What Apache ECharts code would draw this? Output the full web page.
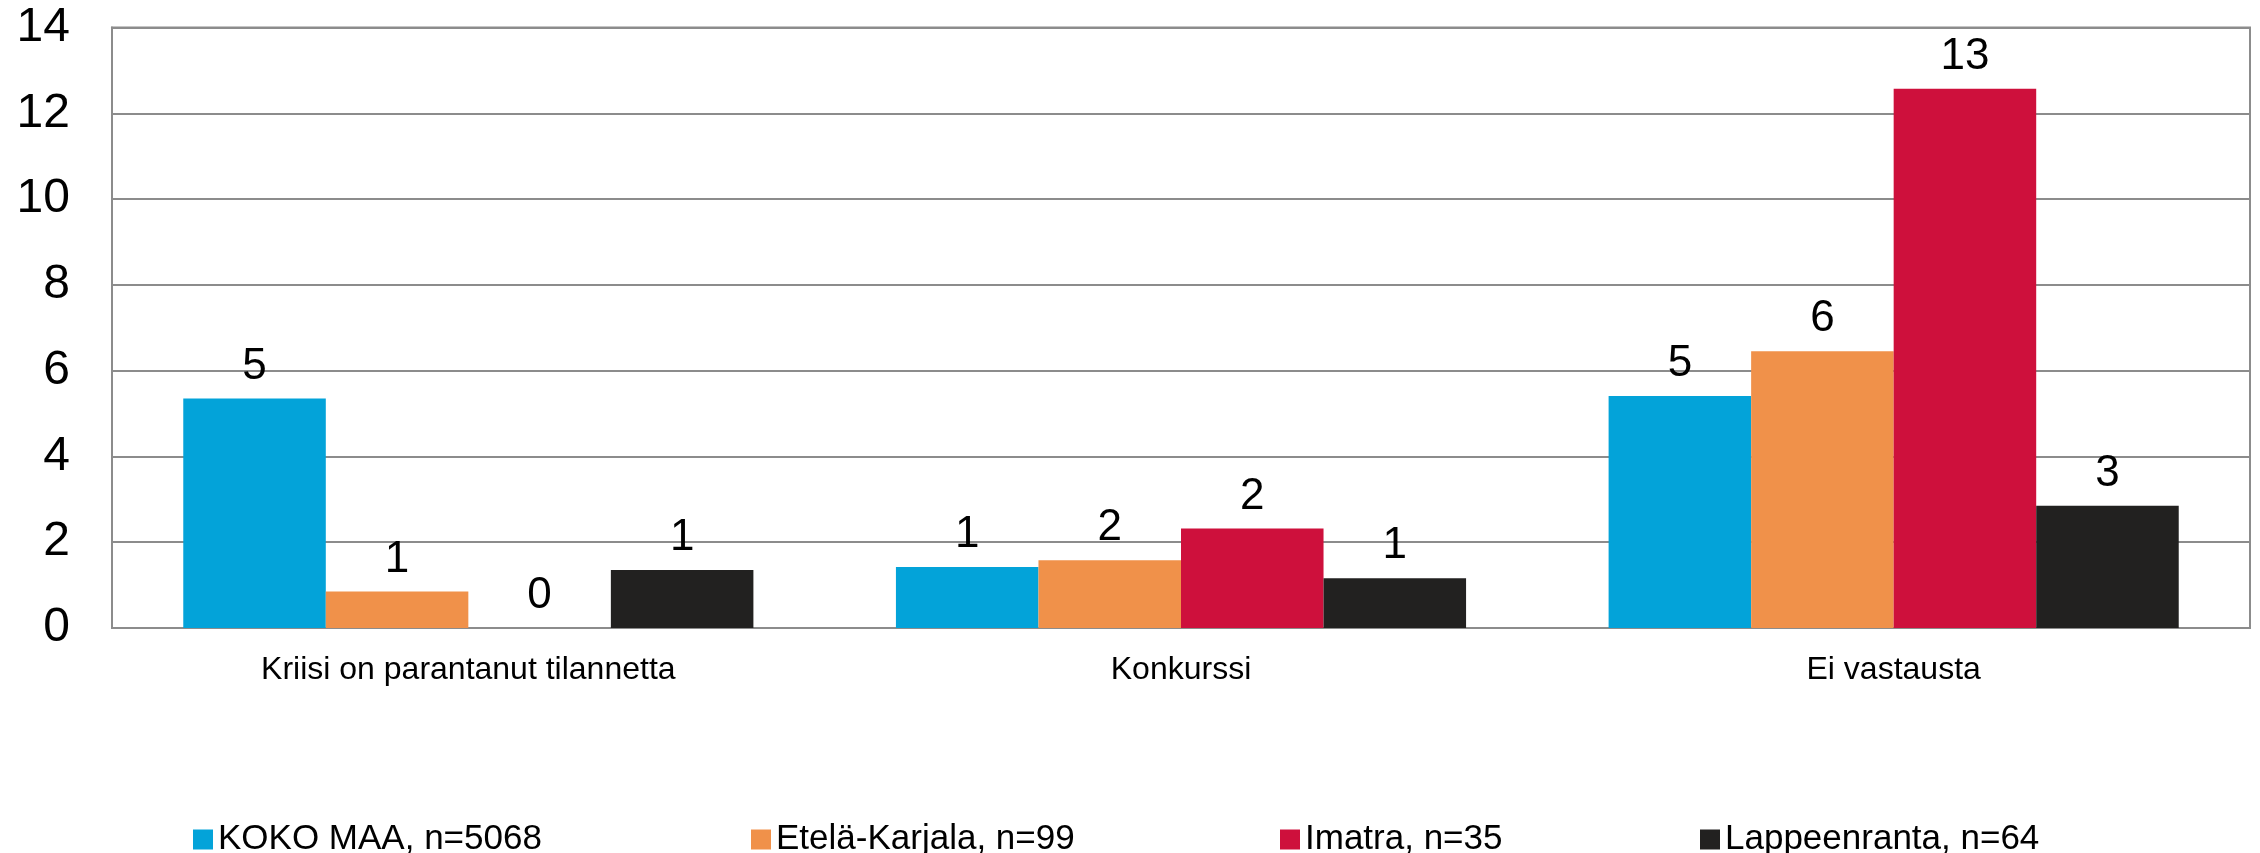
<!DOCTYPE html>
<html>
<head>
<meta charset="utf-8">
<script src="https://cdn.jsdelivr.net/npm/echarts@6/dist/echarts.min.js"></script>
<style>
html,body{margin:0;padding:0;background:#fff;}
#chart{width:2260px;height:853px;}
</style>
</head>
<body>
<div id="chart"></div>
<script>
const categories = ['Kriisi on parantanut tilannetta', 'Konkurssi', 'Ei vastausta'];
const seriesNames = ['KOKO MAA, n=5068', 'Etelä-Karjala, n=99', 'Imatra, n=35', 'Lappeenranta, n=64'];
const kokoMaa = [5.35, 1.42, 5.41];
const etelaKarjala = [0.85, 1.58, 6.45];
const imatra = [0, 2.32, 12.57];
const lappeenranta = [1.35, 1.16, 2.85];
const yTicks = [0, 2, 4, 6, 8, 10, 12, 14];

const colors = ['#03A3D9', '#F0914A', '#CE103C', '#222120'];
const legendLefts = [188, 746, 1275, 1695];
const FONT = '"Liberation Sans", Arial, sans-serif';
const allValues = [kokoMaa, etelaKarjala, imatra, lappeenranta];

const chart = echarts.init(document.getElementById('chart'), null, {renderer: 'canvas'});
chart.setOption({
  animation: false,
  backgroundColor: '#ffffff',
  textStyle: {fontFamily: FONT},
  grid: {
    left: 112, right: 10, top: 27.5, bottom: 225,
    show: true, borderColor: '#8C8C8C', borderWidth: 2, containLabel: false
  },
  legend: seriesNames.map((n, i) => ({
    left: legendLefts[i], top: 817,
    itemWidth: 20, itemHeight: 20,
    icon: 'rect',
    textStyle: {fontFamily: FONT, fontSize: 35, color: '#000'},
    data: [n]
  })),
  xAxis: {
    type: 'category',
    data: categories,
    axisTick: {show: false},
    axisLine: {show: true, lineStyle: {color: '#8C8C8C', width: 2}},
    axisLabel: {fontFamily: FONT, fontSize: 32, color: '#000', margin: 26, interval: 0}
  },
  yAxis: {
    type: 'value',
    min: yTicks[0], max: yTicks[yTicks.length - 1], interval: 2,
    axisLine: {show: true, lineStyle: {color: '#8C8C8C', width: 2}},
    axisTick: {show: false},
    splitLine: {show: true, lineStyle: {color: '#8C8C8C', width: 2}},
    axisLabel: {fontFamily: FONT, fontSize: 48, color: '#000', margin: 42, padding: [6, 0, 0, 0]}
  },
  series: seriesNames.map((name, i) => ({
    name: name,
    type: 'bar',
    data: allValues[i],
    barGap: '0%',
    barCategoryGap: '20%',
    itemStyle: {color: colors[i]},
    label: {
      show: true, position: 'top', distance: 10,
      fontFamily: FONT, fontSize: 44, color: '#000',
      formatter: p => String(Math.round(p.value))
    }
  }))
});
</script>
</body>
</html>
